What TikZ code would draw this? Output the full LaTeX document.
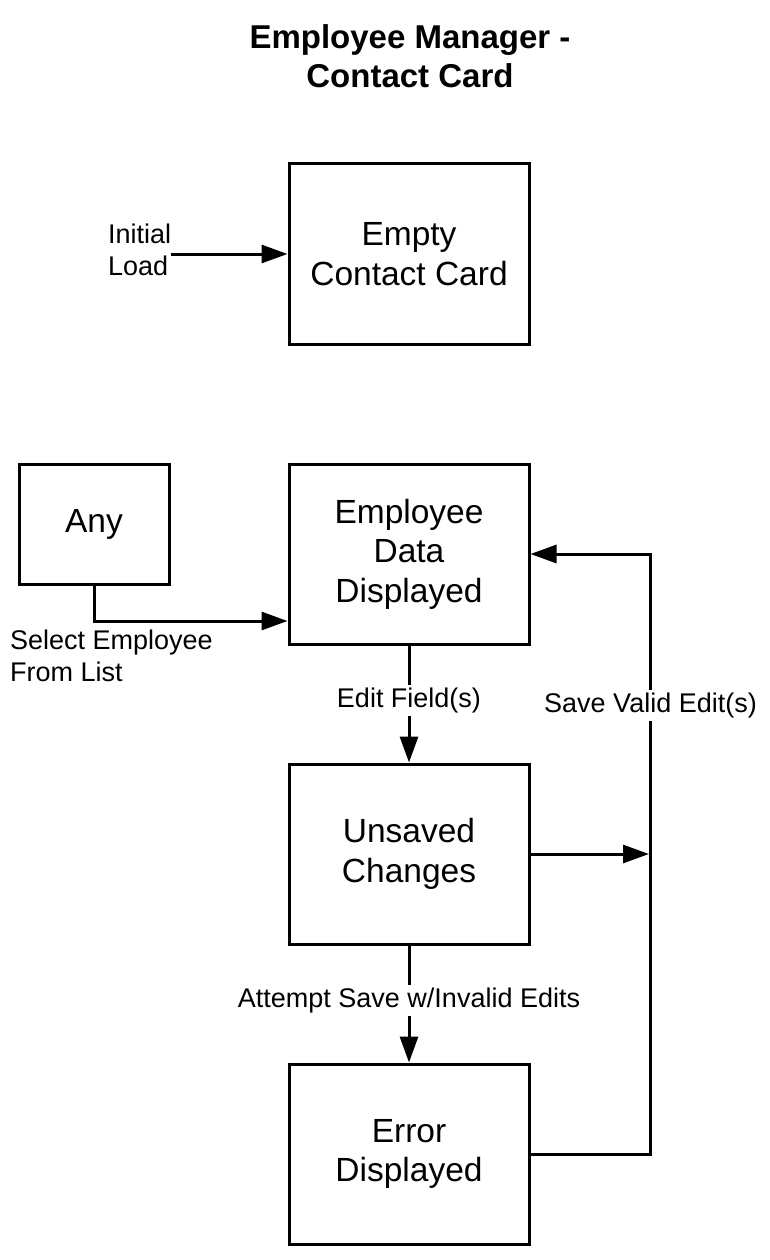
\documentclass[tikz,border=0pt]{standalone}
\usepackage{fontspec}
\setmainfont{Liberation Sans}
\usepackage{tikz}
\usetikzlibrary{arrows.meta}
\tikzset{
    state/.style={draw, line width=3pt, minimum width=240pt, minimum height=180pt,
        inner sep=0pt, align=center, font=\fontsize{33.5}{39.5}\selectfont},
    small state/.style={state, minimum width=150pt, minimum height=120pt},
    trans/.style={line width=3pt, -{Triangle[length=26pt,width=18pt]}},
    trans label/.style={fill=white, inner sep=3pt, align=left, font=\fontsize{27}{32}\selectfont},
}

\begin{document}
\begin{tikzpicture}[x=1pt, y=-1pt]
\useasboundingbox (0,0) rectangle (770,1260);
\node[align=center, font=\bfseries\fontsize{33}{39}\selectfont] (title) at (410,56) {Employee Manager -\\Contact Card};
\node[state] (empty) at (409,254) {Empty\\Contact Card};
\node[small state] (any) at (94,524) {Any};
\node[state] (shown) at (409,554) {Employee\\Data\\Displayed};
\node[state] (unsaved) at (409,854) {Unsaved\\Changes};
\node[state] (error) at (409,1154) {Error\\Displayed};
\node[trans label, fill=none, anchor=west, inner sep=0pt] (init) at (108,250) {Initial\\Load};
\node[trans label, fill=none, anchor=west, inner sep=0pt] (select) at (10,656) {Select Employee\\From List};
\coordinate (join) at (649,854);
\draw[trans] (init.east |- empty) -- (empty);
\draw[trans] (any.south) |- ([yshift=-67pt]shown.west);
\draw[trans] (shown) -- node[trans label, pos=.47] {Edit Field(s)} (unsaved);
\draw[trans] (unsaved) -- (join);
\draw[trans] (unsaved) -- node[trans label, pos=.47] {Attempt Save w/Invalid Edits} (error);
\draw[trans] (error.east) -| node[trans label, pos=.874] {Save Valid Edit(s)} ([xshift=120pt]shown.east) -- (shown.east);
\end{tikzpicture}
\end{document}
